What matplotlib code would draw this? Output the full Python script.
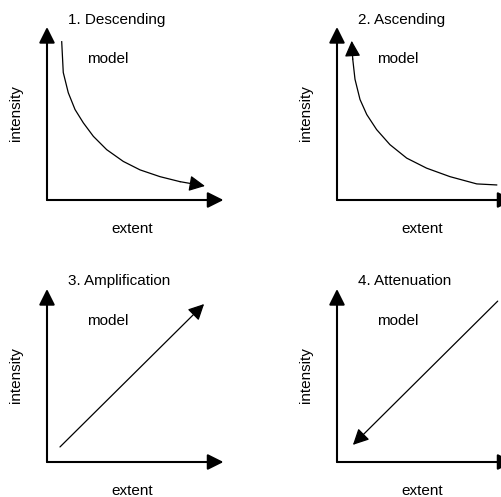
import matplotlib
matplotlib.use("Agg")
import matplotlib.pyplot as plt

plt.rcParams['font.family'] = ['Liberation Sans', 'DejaVu Sans']

titles = ["1. Descending", "2. Ascending", "3. Amplification", "4. Attenuation"]
note = "model"
xlabel = "extent"
ylabel = "intensity"

# curve data (extent, intensity) in axis units 0..10, drawn in order; arrow at the end
desc_x = [0.85, 0.94, 1.23, 1.62, 2.10, 2.68, 3.45, 4.41, 5.38, 6.53, 7.69, 9.13]
desc_y = [9.15, 7.37, 6.20, 5.23, 4.46, 3.68, 2.91, 2.23, 1.74, 1.35, 1.06, 0.81]
asc_x = [9.23, 8.08, 6.53, 5.18, 4.03, 3.06, 2.29, 1.72, 1.33, 1.04, 0.91, 0.85]
asc_y = [0.87, 0.93, 1.35, 1.84, 2.42, 3.20, 4.07, 4.94, 5.81, 6.98, 8.14, 9.20]
amp_x = [0.75, 9.08]
amp_y = [0.87, 9.13]
att_x = [9.29, 0.92]
att_y = [9.30, 0.99]

W, H = 502, 497
fig = plt.figure(figsize=(W / 100, H / 100), dpi=100)

# panel origins (px) and axis length (px)
origins = [(47, 200), (337, 200), (47, 462), (337, 462)]
L = 173
title_y = [10.4, 10.4, 10.47, 10.47]
model_y = [8.14, 8.14, 8.14, 8.14]

curves = [(desc_x, desc_y), (asc_x, asc_y), (amp_x, amp_y), (att_x, att_y)]

for i, ((ox, oy), (cx, cy)) in enumerate(zip(origins, curves)):
    ax = fig.add_axes([ox / W, (H - oy) / H, L / W, L / H])
    ax.set_xlim(0, 10)
    ax.set_ylim(0, 10)
    ax.axis('off')
    # axes arrows
    ax.annotate('', xy=(10.2, 0), xytext=(0, 0), annotation_clip=False,
                arrowprops=dict(arrowstyle='-|>,head_length=0.6,head_width=0.3',
                                lw=1.5, color='black',
                                mutation_scale=16, shrinkA=0, shrinkB=0))
    ax.annotate('', xy=(0, 10.0), xytext=(0, 0), annotation_clip=False,
                arrowprops=dict(arrowstyle='-|>,head_length=0.6,head_width=0.3',
                                lw=1.5, color='black',
                                mutation_scale=16, shrinkA=0, shrinkB=0))
    # curve
    ax.plot(cx[:-1], cy[:-1], color='black', lw=0.9, clip_on=False,
            solid_joinstyle='round')
    ax.annotate('', xy=(cx[-1], cy[-1]), xytext=(cx[-2], cy[-2]),
                annotation_clip=False,
                arrowprops=dict(arrowstyle='-|>,head_length=0.6,head_width=0.3',
                                lw=0.9, color='black',
                                mutation_scale=16, shrinkA=0, shrinkB=0))
    ax.text(1.22, title_y[i], titles[i], fontsize=11, ha='left', va='center')
    ax.text(2.31, model_y[i], note, fontsize=11, ha='left', va='center')
    ax.text(-1.8, 5.0, ylabel, fontsize=11, rotation=90, ha='center', va='center')
    ax.text(4.95, -1.7, xlabel, fontsize=11, ha='center', va='center')

fig.savefig("out.png", dpi=100)
